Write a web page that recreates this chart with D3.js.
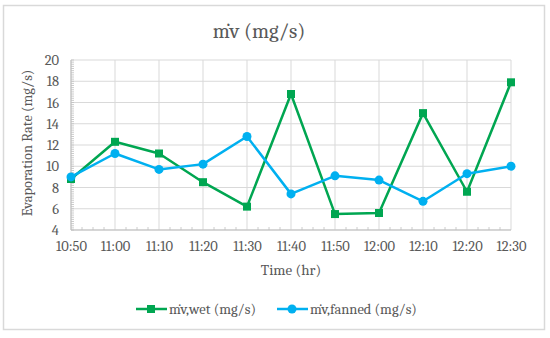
<!DOCTYPE html>
<html><head><meta charset="utf-8">
<script src="https://cdn.jsdelivr.net/npm/d3@7"></script>
<style>body{margin:0;background:#fff}svg{display:block}</style>
</head><body>
<svg id="c" width="550" height="338"></svg>
<script>
const categories = ["10:50","11:00","11:10","11:20","11:30","11:40","11:50","12:00","12:10","12:20","12:30"];
const wetValues = [8.8,12.3,11.2,8.5,6.2,16.8,5.5,5.6,15.0,7.6,17.9];
const fannedValues = [9.0,11.2,9.7,10.2,12.8,7.4,9.1,8.7,6.7,9.3,10.0];
const yTicks = [4,6,8,10,12,14,16,18,20];
const seriesNames = ["ṁv,wet (mg/s)","ṁv,fanned (mg/s)"];
const titleText = "ṁv (mg/s)";
const xTitle = "Time (hr)";
const yTitle = "Evaporation Rate (mg/s)";

const font = "Cambria, 'Liberation Serif', 'DejaVu Serif', serif";
const svg = d3.select("#c");
const green = "#00a651", blue = "#00b0f0";
const textCol = "#595959";

svg.append("rect").attr("x",3.5).attr("y",5.5).attr("width",541).attr("height",324)
  .attr("fill","#fff").attr("stroke","#d9d9d9").attr("stroke-width",1.5);

const x = d3.scalePoint().domain(categories).range([71,511]);
const y = d3.scaleLinear().domain([4,20]).range([230,60]);

// grid
const g = svg.append("g");
g.selectAll(".hg").data(yTicks).join("line")
  .attr("x1",71).attr("x2",511).attr("y1",d=>y(d)).attr("y2",d=>y(d))
  .attr("stroke","#d9d9d9").attr("stroke-width",1);
g.selectAll(".vg").data(categories).join("line")
  .attr("x1",d=>x(d)).attr("x2",d=>x(d)).attr("y1",60).attr("y2",230)
  .attr("stroke","#d9d9d9").attr("stroke-width",1);

// minor ticks y
const minorY = d3.range(4,20.001,0.2);
g.selectAll(".my").data(minorY).join("line")
  .attr("x1",71).attr("x2",74).attr("y1",d=>y(d)).attr("y2",d=>y(d))
  .attr("stroke","#bfbfbf").attr("stroke-width",0.8);
// minor ticks x
const step = x.step();
const minorX = [];
categories.forEach((c,i)=>{ if(i<categories.length-1) for(let k=1;k<4;k++) minorX.push(x(c)+step*k/4); });
g.selectAll(".mx").data(minorX).join("line")
  .attr("x1",d=>d).attr("x2",d=>d).attr("y1",230).attr("y2",227)
  .attr("stroke","#bfbfbf").attr("stroke-width",0.8);

// axes lines
g.append("line").attr("x1",71).attr("x2",71).attr("y1",60).attr("y2",230).attr("stroke","#bfbfbf");
g.append("line").attr("x1",71).attr("x2",511).attr("y1",230).attr("y2",230).attr("stroke","#bfbfbf");

// axes with d3 (labels only)
const yAxis = svg.append("g").attr("transform","translate(71,0)")
  .call(d3.axisLeft(y).tickValues(yTicks).tickSize(0).tickPadding(12));
yAxis.select(".domain").remove();
yAxis.selectAll("text").attr("font-family",font).attr("font-size",14.5).attr("fill",textCol);
const xAxis = svg.append("g").attr("transform","translate(0,230)")
  .call(d3.axisBottom(x).tickSize(0).tickPadding(11));
xAxis.select(".domain").remove();
xAxis.selectAll("text").attr("font-family",font).attr("font-size",14.5).attr("fill",textCol);

// titles
svg.append("text").attr("x",259).attr("y",38).attr("text-anchor","middle")
  .attr("font-family",font).attr("font-size",21).attr("fill",textCol).text(titleText);
svg.append("text").attr("x",291).attr("y",275).attr("text-anchor","middle")
  .attr("font-family",font).attr("font-size",15).attr("fill",textCol).text(xTitle);
svg.append("text").attr("transform","translate(32,143) rotate(-90)").attr("text-anchor","middle")
  .attr("font-family",font).attr("font-size",14.5).attr("fill",textCol).text(yTitle);

// lines
const line = d3.line().x((d,i)=>x(categories[i])).y(d=>y(d));
svg.append("path").datum(wetValues).attr("d",line).attr("fill","none")
  .attr("stroke",green).attr("stroke-width",2.5).attr("stroke-linejoin","round");
svg.append("path").datum(fannedValues).attr("d",line).attr("fill","none")
  .attr("stroke",blue).attr("stroke-width",2.5).attr("stroke-linejoin","round");
svg.selectAll(".sq").data(wetValues).join("rect")
  .attr("x",(d,i)=>x(categories[i])-4).attr("y",d=>y(d)-4).attr("width",8).attr("height",8)
  .attr("fill",green);
svg.selectAll(".ci").data(fannedValues).join("circle")
  .attr("cx",(d,i)=>x(categories[i])).attr("cy",d=>y(d)).attr("r",4.5).attr("fill",blue);

// legend
const leg = svg.append("g");
leg.append("line").attr("x1",136).attr("x2",167).attr("y1",309).attr("y2",309).attr("stroke",green).attr("stroke-width",2.5);
leg.append("rect").attr("x",147).attr("y",305).attr("width",8).attr("height",8).attr("fill",green);
leg.append("text").attr("x",169).attr("y",314).attr("font-family",font).attr("font-size",14.5).attr("fill",textCol).text(seriesNames[0]);
leg.append("line").attr("x1",277).attr("x2",308).attr("y1",309).attr("y2",309).attr("stroke",blue).attr("stroke-width",2.5);
leg.append("circle").attr("cx",292).attr("cy",309).attr("r",4.5).attr("fill",blue);
leg.append("text").attr("x",310).attr("y",314).attr("font-family",font).attr("font-size",14.5).attr("fill",textCol).text(seriesNames[1]);
</script>
</body></html>
